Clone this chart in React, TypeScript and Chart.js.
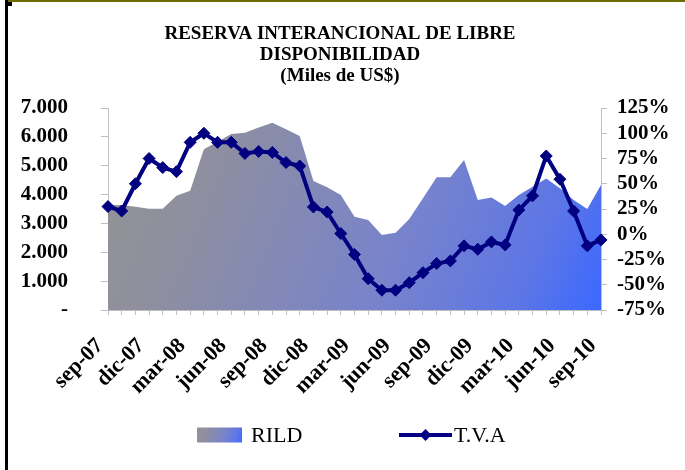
import React, { useEffect, useRef } from "react";
import { Chart, registerables } from "chart.js";

Chart.register(...registerables);

const months: string[] = [
  "sep-07", "oct-07", "nov-07", "dic-07", "ene-08", "feb-08", "mar-08", "abr-08", "may-08",
  "jun-08", "jul-08", "ago-08", "sep-08", "oct-08", "nov-08", "dic-08", "ene-09", "feb-09",
  "mar-09", "abr-09", "may-09", "jun-09", "jul-09", "ago-09", "sep-09", "oct-09", "nov-09",
  "dic-09", "ene-10", "feb-10", "mar-10", "abr-10", "may-10", "jun-10", "jul-10", "ago-10", "sep-10",
];

const rild: number[] = [
  3640, 3640, 3580, 3510, 3510, 3960, 4135, 5570, 5830, 6100, 6140, 6320, 6490, 6260, 6030,
  4470, 4250, 3985, 3230, 3120, 2600, 2680, 3150, 3870, 4600, 4600, 5200, 3810, 3900, 3600,
  3985, 4270, 4560, 4215, 3810, 3500, 4330,
];

const tva: number[] = [
  27.4, 23, 50, 75, 66, 62, 91, 100, 91, 91, 80, 82, 81, 71, 67.6, 27, 22, 0.7, -20, -44,
  -55.4, -55.4, -48, -38, -29, -26.4, -11.5, -14.9, -7.6, -10.6, 24, 38, 77.5, 54.5, 23,
  -11.5, -5.6,
];

const titleLines: string[] = ["RESERVA INTERANCIONAL DE LIBRE", "DISPONIBILIDAD", "(Miles de US$)"];
const seriesNames: string[] = ["RILD", "T.V.A"];

const SERIF = "'Liberation Serif', 'Times New Roman', serif";
const NAVY = "#000080";
const AXIS = "#bfbfbf";

function areaGradient(ctx: CanvasRenderingContext2D, x0: number, y0: number, x1: number, y1: number) {
  const g = ctx.createLinearGradient(x0, y0, x1, y1);
  g.addColorStop(0, "#949494");
  g.addColorStop(0.2, "#8f8f9e");
  g.addColorStop(0.6, "#7883cb");
  g.addColorStop(0.85, "#5d76e6");
  g.addColorStop(1, "#3a68ff");
  return g;
}

const decorPlugin = {
  id: "decor",
  afterDraw(chart: any) {
    const ctx: CanvasRenderingContext2D = chart.ctx;
    ctx.save();
    // title
    ctx.fillStyle = "#000";
    ctx.font = `bold 19px ${SERIF}`;
    ctx.textAlign = "center";
    ctx.textBaseline = "middle";
    const ty = [34, 55, 76];
    titleLines.forEach((t, i) => ctx.fillText(t, 340, ty[i]));

    // legend
    const ly = 435;
    const bx = 197, bw = 45, bh = 15;
    ctx.fillStyle = areaGradient(ctx, bx, ly - bh / 2, bx + bw, ly + bh / 2);
    ctx.fillRect(bx, ly - bh / 2, bw, bh);
    ctx.fillStyle = "#000";
    ctx.font = `22px ${SERIF}`;
    ctx.textAlign = "left";
    ctx.fillText(seriesNames[0], 251, ly + 1);

    ctx.strokeStyle = NAVY;
    ctx.lineWidth = 4;
    ctx.beginPath();
    ctx.moveTo(399, ly);
    ctx.lineTo(452, ly);
    ctx.stroke();
    ctx.fillStyle = NAVY;
    ctx.beginPath();
    const cx = 425.5, r = 6;
    ctx.moveTo(cx, ly - r);
    ctx.lineTo(cx + r, ly);
    ctx.lineTo(cx, ly + r);
    ctx.lineTo(cx - r, ly);
    ctx.closePath();
    ctx.fill();
    ctx.fillStyle = "#000";
    ctx.fillText(seriesNames[1], 454, ly + 1);
    ctx.restore();
  },
};

function fmtThousands(v: number): string {
  if (v === 0) return "-";
  const s = Math.round(v).toString();
  return s.replace(/\B(?=(\d{3})+(?!\d))/g, ".");
}

export default function App() {
  const ref = useRef<HTMLCanvasElement | null>(null);

  useEffect(() => {
    document.body.style.margin = "0";
    const canvas = ref.current!;
    const chart = new Chart(canvas, {
      type: "line",
      data: {
        labels: months,
        datasets: [
          {
            label: seriesNames[0],
            data: rild,
            yAxisID: "y",
            fill: "origin",
            borderWidth: 0,
            borderColor: "rgba(0,0,0,0)",
            pointRadius: 0,
            tension: 0,
            order: 2,
            backgroundColor: (c: any) => {
              const ca = c.chart.chartArea;
              if (!ca) return "#8888aa";
              return areaGradient(c.chart.ctx, ca.left, ca.top, ca.right, ca.bottom);
            },
          },
          {
            label: seriesNames[1],
            data: tva,
            yAxisID: "y1",
            fill: false,
            borderColor: NAVY,
            backgroundColor: NAVY,
            borderWidth: 4,
            pointStyle: "rectRot",
            pointRadius: 6,
            pointBackgroundColor: NAVY,
            pointBorderColor: NAVY,
            pointBorderWidth: 1,
            tension: 0,
            order: 1,
          },
        ],
      },
      options: {
        animation: false,
        responsive: false,
        maintainAspectRatio: false,
        layout: { padding: { top: 108, bottom: 0, left: 0, right: 0 } },
        plugins: {
          legend: { display: false },
          title: { display: false },
          tooltip: { enabled: false },
        },
        scales: {
          x: {
            offset: false,
            grid: {
              drawOnChartArea: false,
              drawTicks: true,
              tickLength: 5,
              color: AXIS,
            },
            border: { display: true, color: AXIS, width: 1 },
            ticks: {
              autoSkip: false,
              maxRotation: 45,
              minRotation: 45,
              padding: 18,
              labelOffset: -8,
              color: "#000",
              font: { family: SERIF, size: 22, weight: "bold" },
              callback: (_v: any, i: number) => (i % 3 === 0 ? months[i] : ""),
            },
            afterFit: (s: any) => {
              s.height = 160;
            },
          },
          y: {
            position: "left",
            min: 0,
            max: 7000,
            grid: { drawOnChartArea: false, drawTicks: true, tickLength: 7, color: AXIS },
            border: { display: true, color: AXIS, width: 1 },
            ticks: {
              autoSkip: false,
              stepSize: 1000,
              padding: 33,
              color: "#000",
              font: { family: SERIF, size: 21, weight: "bold" },
              callback: (v: any) => fmtThousands(Number(v)),
            },
            afterFit: (s: any) => {
              s.width = 108;
            },
          },
          y1: {
            position: "right",
            min: -75,
            max: 125,
            grid: { drawOnChartArea: false, drawTicks: true, tickLength: 6, color: AXIS },
            border: { display: true, color: AXIS, width: 1 },
            ticks: {
              autoSkip: false,
              stepSize: 25,
              padding: 10,
              color: "#000",
              font: { family: SERIF, size: 21, weight: "bold" },
              callback: (v: any) => `${v}%`,
            },
            afterFit: (s: any) => {
              s.width = 84;
            },
          },
        },
      },
      plugins: [decorPlugin],
    } as any);
    return () => chart.destroy();
  }, []);

  return (
    <div style={{ position: "relative", width: 685, height: 470, background: "#fff" }}>
      <canvas ref={ref} width={685} height={470} style={{ display: "block" }} />
      <div style={{ position: "absolute", left: 5, top: 0, width: 3, height: 470, background: "#000" }} />
      <div style={{ position: "absolute", left: 5, top: 0, width: 7, height: 6, background: "#000" }} />
      <div style={{ position: "absolute", left: 8, top: 0, width: 677, height: 2, background: "#6e6e00" }} />
    </div>
  );
}
